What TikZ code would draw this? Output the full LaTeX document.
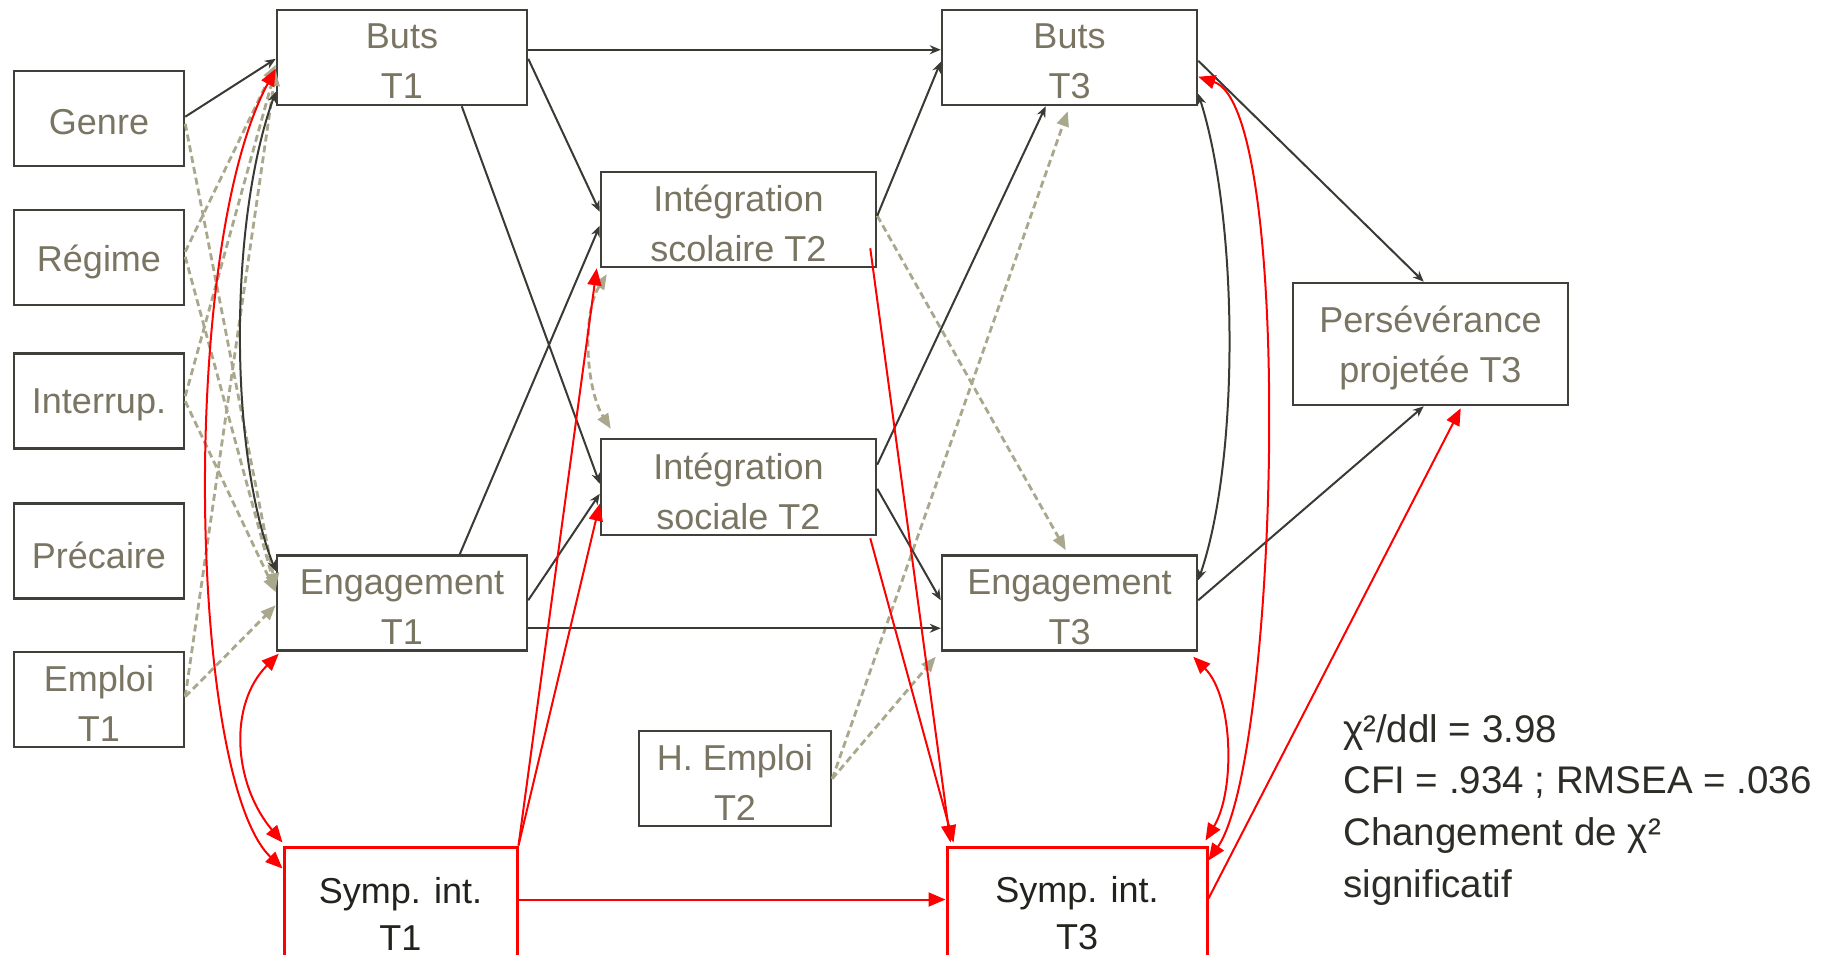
\documentclass[tikz,border=0pt]{standalone}
\usepackage{fontspec}
\setmainfont{Liberation Sans}
\usetikzlibrary{arrows.meta}
\definecolor{lblc}{RGB}{122,117,98}
\definecolor{bordc}{RGB}{64,64,58}
\definecolor{blkc}{RGB}{58,58,52}
\definecolor{dashc}{RGB}{170,168,140}
\definecolor{txtc}{RGB}{45,45,40}
\definecolor{symc}{RGB}{35,35,30}
\newcommand{\lowr}[1]{\raisebox{-4pt}[\height][\depth]{#1}}
\begin{document}
\begin{tikzpicture}[x=1pt,y=-1pt,
  box/.style={draw=bordc, line width=2.5pt, fill=white, inner sep=0pt, align=center,
    text=lblc, font=\fontsize{36}{50}\selectfont},
  rbox/.style={box, draw=red, line width=3pt, text=symc, font=\fontsize{36}{47}\selectfont},
  blk/.style={draw=blkc, line width=2pt, -{Stealth[length=11pt,width=9pt]}},
  blkb/.style={draw=blkc, line width=2pt, {Stealth[length=11pt,width=9pt]}-{Stealth[length=11pt,width=9pt]}},
  redl/.style={draw=red, line width=2pt, -{Triangle[length=17pt,width=14pt]}},
  redb/.style={draw=red, line width=2pt, {Triangle[length=17pt,width=14pt]}-{Triangle[length=17pt,width=14pt]}},
  dsh/.style={draw=dashc, line width=2.8pt, dash pattern=on 7pt off 4pt, -{Triangle[length=15pt,width=12pt]}},
  dshb/.style={draw=dashc, line width=2.8pt, dash pattern=on 7pt off 4pt, {Triangle[length=15pt,width=12pt]}-{Triangle[length=15pt,width=12pt]}},
  stat/.style={anchor=base west, inner sep=0pt, text=txtc, font=\fontsize{38.5}{51.7}\selectfont}
]
\useasboundingbox (0,0) rectangle (1842,955);
\fill[white] (0,0) rectangle (1842,955);
\clip (0,0) rectangle (1842,955);

% boxes
\node[box, minimum width=170pt, minimum height=95pt] (genre) at (99,118.5) {\lowr{Genre}};
\node[box, minimum width=170pt, minimum height=95pt] (regime) at (99,257.5) {\lowr{Régime}};
\node[box, minimum width=170pt, minimum height=95pt] (interrup) at (99,401) {\lowr{Interrup.}};
\node[box, minimum width=170pt, minimum height=95pt] (precaire) at (99,551) {\lowr{Précaire}};
\node[box, minimum width=170pt, minimum height=95pt] (emploi) at (99,699.5) {\lowr{Emploi}\\\lowr{T1}};
\node[box, minimum width=250pt, minimum height=95pt] (bt1) at (402,57.5) {\lowr{Buts}\\\lowr{T1}};
\node[box, minimum width=250pt, minimum height=95pt] (et1) at (402,603) {\lowr{Engagement}\\\lowr{T1}};
\node[rbox, minimum width=233pt, minimum height=133pt] (st1) at (400.5,913.5) {Symp. int.\\T1};
\node[box, minimum width=275pt, minimum height=95pt] (is2) at (738.5,219.5) {\lowr{Intégration}\\\lowr{scolaire T2}};
\node[box, minimum width=275pt, minimum height=96pt] (so2) at (738.5,487) {\lowr{Intégration}\\\lowr{sociale T2}};
\node[box, minimum width=192pt, minimum height=95pt] (he2) at (735,778.5) {\lowr{H. Emploi}\\\lowr{T2}};
\node[box, minimum width=255pt, minimum height=95pt] (bt3) at (1069.5,57.5) {\lowr{Buts}\\\lowr{T3}};
\node[box, minimum width=255pt, minimum height=95pt] (et3) at (1069.5,603) {\lowr{Engagement}\\\lowr{T3}};
\node[rbox, minimum width=260pt, minimum height=133pt] (st3) at (1077,913.5) {Symp. int.\\T3};
\node[box, minimum width=275pt, minimum height=122pt] (pers) at (1430.5,344) {\lowr{Persévérance}\\\lowr{projetée T3}};

% statistics
\node[stat] (s1) at (1343,742) {χ²/ddl = 3.98};
\node[stat] (s2) at (1343,793) {CFI = .934 ; RMSEA = .036};
\node[stat] (s3) at (1343,845) {Changement de χ²};
\node[stat] (s4) at (1343,897) {significatif};

% dashed (control variables)
\draw[dsh] ([yshift=-54pt]genre.north east) -- ([yshift=-34pt]et1.north west);
\draw[dsh] ([yshift=-43pt]regime.north east) -- ([yshift=-56pt]bt1.north west);
\draw[dsh] ([yshift=-48pt]regime.north east) -- ([yshift=-36pt]et1.north west);
\draw[dsh] ([yshift=-44pt]interrup.north east) -- ([yshift=-60pt]bt1.north west);
\draw[dsh] ([yshift=-49pt]interrup.north east) -- ([yshift=-38pt]et1.north west);
\draw[dsh] ([yshift=-46pt]emploi.north east) -- ([yshift=-62pt]bt1.north west);
\draw[dsh] ([yshift=-46pt]emploi.north east) -- ([yshift=-51pt]et1.north west);
\draw[dsh] ([yshift=-45pt]is2.north east) -- ([xshift=125pt,yshift=4pt]et3.north west);
\draw[dsh] ([yshift=-49pt]he2.north east) -- ([xshift=127pt,yshift=-5pt]bt3.south west);
\draw[dsh] ([yshift=-49pt]he2.north east) -- ([xshift=-5pt,yshift=-5pt]et3.south west);
\draw[dshb] ([xshift=7pt,yshift=-6pt]is2.south west) .. controls +(-25,40) and +(-25,-40) .. ([xshift=11pt,yshift=9pt]so2.north west);

% black paths
\draw[blk] ([yshift=-47pt]genre.north east) -- ([yshift=-50pt]bt1.north west);
\draw[blk] ([yshift=-41pt]bt1.north east) -- ([yshift=-41pt]bt3.north west);
\draw[blk] ([yshift=-50pt]bt1.north east) -- ([yshift=-41pt]is2.north west);
\draw[blk] ([xshift=186pt]bt1.south west) -- ([yshift=-46pt]so2.north west);
\draw[blk] ([xshift=184pt]et1.north west) -- ([yshift=-55pt]is2.north west);
\draw[blk] ([yshift=-46pt]et1.north east) -- ([yshift=-56pt]so2.north west);
\draw[blk] ([yshift=-74pt]et1.north east) -- ([yshift=-74pt]et3.north west);
\draw[blk] ([yshift=-45pt]is2.north east) -- ([yshift=-53pt]bt3.north west);
\draw[blk] ([yshift=-27pt]so2.north east) -- ([xshift=105pt]bt3.south west);
\draw[blk] ([yshift=-51pt]so2.north east) -- ([yshift=-46pt]et3.north west);
\draw[blk] ([yshift=-52pt]bt3.north east) -- ([xshift=132pt]pers.north west);
\draw[blk] ([yshift=-46pt]et3.north east) -- ([xshift=132pt]pers.south west);
\draw[blkb] ([yshift=-85pt]bt3.north east) .. controls +(40,125) and +(42,-122) .. ([yshift=-26pt]et3.north east);
\draw[blkb] ([yshift=-83pt]bt1.north west) .. controls +(-47,130) and +(-47,-120) .. ([yshift=-17pt]et1.north west);

% red paths
\draw[redl] ([yshift=-54pt]st1.north east) -- ([yshift=-54pt]st3.north west);
\draw[redl] (st1.north east) -- ([xshift=-3pt]is2.south west);
\draw[redl] (st1.north east) -- ([yshift=-66pt]so2.north west);
\draw[redl] ([xshift=-7pt,yshift=20pt]is2.south east) -- ([xshift=5pt,yshift=3pt]st3.north west);
\draw[redl] ([xshift=-7pt,yshift=-2pt]so2.south east) -- ([xshift=8pt,yshift=3pt]st3.north west);
\draw[redb] ([yshift=-60pt]bt1.north west) .. controls +(-97,180) and +(-94,-90) .. ([yshift=-23pt]st1.north west);
\draw[redb] ([xshift=3pt,yshift=-2pt]et1.south west) .. controls +(-50,50) and +(-50,-60) .. ([yshift=3pt]st1.north west);
\draw[redb] ([yshift=-68pt]bt3.north east) .. controls +(97,32) and +(70,-102) .. ([yshift=-15pt]st3.north east);
\draw[redb] ([xshift=-5pt,yshift=-5pt]et3.south east) .. controls +(40,40) and +(30,-50) .. ([xshift=-3pt,yshift=5pt]st3.north east);
\draw[redl] ([yshift=-53pt]st3.north east) -- ([xshift=169pt,yshift=-2pt]pers.south west);
\end{tikzpicture}
\end{document}
